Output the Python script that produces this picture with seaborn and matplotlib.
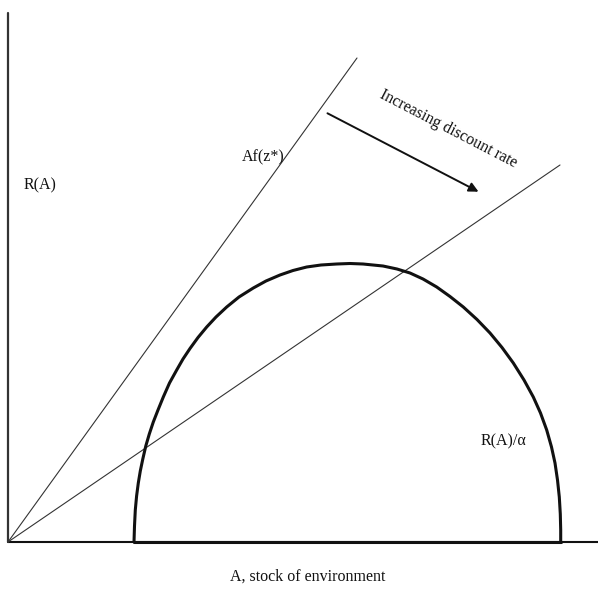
import matplotlib
matplotlib.use("Agg")
import matplotlib.pyplot as plt
import seaborn as sns
import pandas as pd

# Curve R(A)/alpha (A = stock, R = value)
curve_A = [126, 126.5, 127.3, 128.6, 130.3, 132.3, 134.8, 137.8, 141.3, 145.3, 150, 155.3, 161.5, 168.7, 175, 182,
           190, 198.7, 208, 218.7, 231, 245.3, 258, 272, 285, 298.7, 313, 328.7, 342, 355, 375, 389, 402,
           415, 428.7, 442, 455.3, 469, 482, 494, 505.3, 516, 525.3, 532.5, 538.7, 543.5, 547, 549.5,
           551.3, 552.3, 552.7, 552.7]
curve_R = [0, 16, 32, 46, 59, 71, 83, 96, 108, 120, 132, 145, 159, 172, 183, 193.5,
           204.5, 215, 225, 235, 245, 254, 261, 267, 271.5, 275, 277, 278, 278.5, 278, 276, 273, 269,
           263, 255, 245.5, 235, 222.5, 209, 194.5, 179, 162, 145, 129, 112, 95, 79, 62,
           45, 28, 12, 0]

# Rays from the origin: Af(z*) for two discount rates
ray_steep_A = [0, 349]
ray_steep_R = [0, 484]
ray_flat_A = [0, 552]
ray_flat_R = [0, 377]

# Axes extents
xaxis_A = [0, 590]
xaxis_R = [0, 0]
yaxis_A = [0, 0]
yaxis_R = [0, 529]

# Flat bottom of the curve
base_A = [126, 552.7]
base_R = [0, 0]

sns.set_style("white")
plt.rcParams['font.family'] = ['Liberation Serif', 'DejaVu Serif']

fig = plt.figure(figsize=(5.98, 5.93), dpi=100)
ax = fig.add_axes([0, 0, 1, 1])
ax.set_xlim(-8, 590)
ax.set_ylim(-51, 542)
ax.axis("off")

ink = "#111111"
kw = dict(ax=ax, sort=False, estimator=None)
sns.lineplot(x=xaxis_A, y=xaxis_R, color=ink, lw=1.5, **kw)
sns.lineplot(x=yaxis_A, y=yaxis_R, color="#333333", lw=1.6, **kw)
sns.lineplot(x=ray_steep_A, y=ray_steep_R, color="#333333", lw=0.8, **kw)
sns.lineplot(x=ray_flat_A, y=ray_flat_R, color="#333333", lw=0.8, **kw)
df = pd.DataFrame({"A": curve_A, "R": curve_R})
sns.lineplot(data=df, x="A", y="R", color=ink, lw=2.2, **kw)
sns.lineplot(x=base_A, y=base_R, color=ink, lw=2.2, **kw)

ax.annotate("", xy=(473, 349), xytext=(317, 430),
            arrowprops=dict(arrowstyle="-|>", color=ink, lw=1.4, mutation_scale=14))

fs = 11.5
ax.text(440, 413, "Increasing discount rate", rotation=-27.4, rotation_mode="anchor",
        ha="center", va="center", fontsize=fs, color=ink)
ax.text(32, 357, "R(A)", ha="center", va="center", fontsize=fs, color=ink)
ax.text(255, 385, "Af(z*)", ha="center", va="center", fontsize=fs, color=ink)
ax.text(495, 101, "R(A)/α", ha="center", va="center", fontsize=fs, color=ink)
ax.text(300, -35, "A, stock of environment", ha="center", va="center", fontsize=fs, color=ink)

fig.savefig("out.png", dpi=100, facecolor="white")
